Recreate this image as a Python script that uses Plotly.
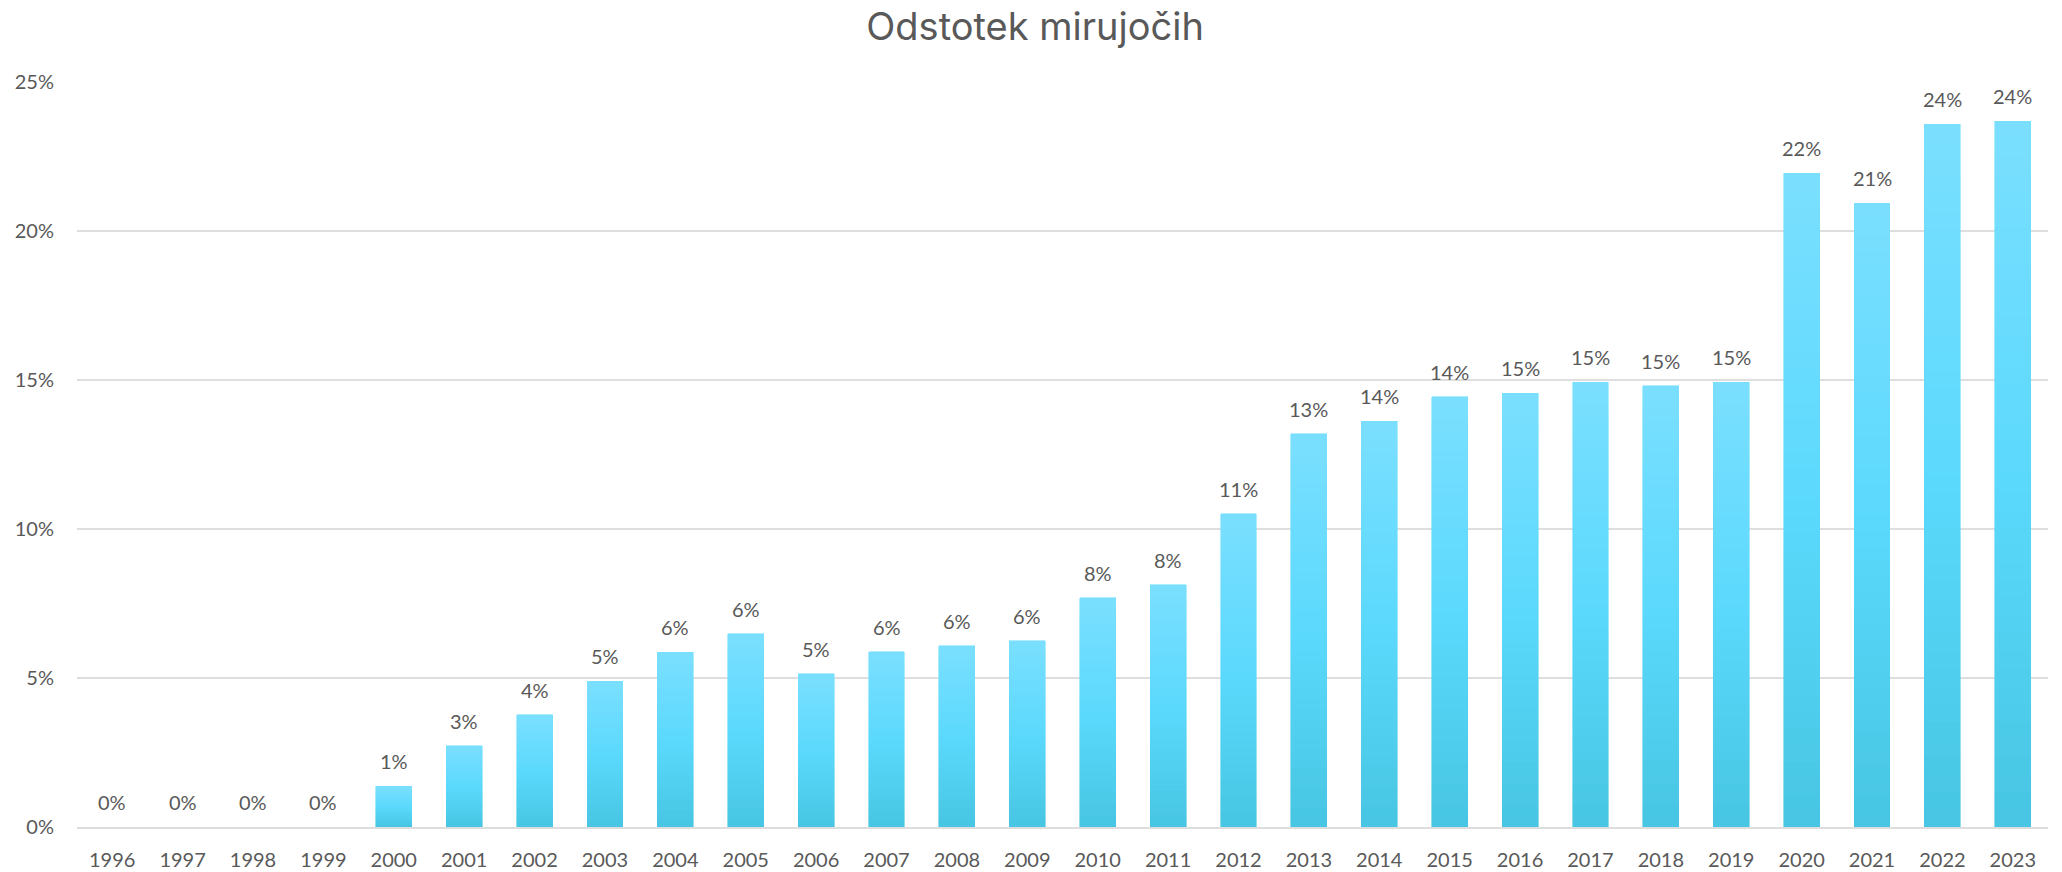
import plotly.graph_objects as go

years = [str(y) for y in range(1996, 2024)]
values = [0, 0, 0, 0, 1.36, 2.73, 3.77, 4.89, 5.86, 6.48, 5.14, 5.88, 6.08, 6.25,
          7.69, 8.13, 10.51, 13.19, 13.62, 14.43, 14.56, 14.93, 14.80, 14.93,
          21.93, 20.93, 23.58, 23.68]
labels = [f"{v:.0f}%" for v in values]
title_text = "Odstotek mirujočih"
y_ticks = [0, 5, 10, 15, 20, 25]
y_ticklabels = [f"{t}%" for t in y_ticks]

# gradient stops (fraction from bottom -> color)
stops = [(0.0, (0x47, 0xC6, 0xE2)), (0.5, (0x5B, 0xD9, 0xFD)), (1.0, (0x7B, 0xDF, 0xFE))]


def color_at(f):
    for (f0, c0), (f1, c1) in zip(stops[:-1], stops[1:]):
        if f0 <= f <= f1:
            t = (f - f0) / (f1 - f0)
            c = [round(a + (b - a) * t) for a, b in zip(c0, c1)]
            return f"rgb({c[0]},{c[1]},{c[2]})"
    return "rgb(123,223,254)"


N = 40
fig = go.Figure()
for i in range(N):
    f = (i + 0.5) / N
    col = color_at(f)
    fig.add_trace(go.Bar(
        x=years, y=[v / N for v in values],
        marker=dict(color=col, line=dict(color=col, width=0.6)),
        hoverinfo="skip", showlegend=False,
    ))

# annotations: on a category axis, x is the category index
for idx, (v, lab) in enumerate(zip(values, labels)):
    fig.add_annotation(x=idx, y=v, text=lab, showarrow=False, yanchor="middle",
                       yshift=25, font=dict(family="Lato", size=20, color="#595959"))

fig.update_layout(
    width=2062, height=872,
    barmode="stack", bargap=0.49,
    paper_bgcolor="white", plot_bgcolor="white",
    margin=dict(l=77, r=14, t=81.5, b=44.5, autoexpand=False),
    title=dict(text=title_text, x=0.502, xanchor="center", y=1 - 27 / 872, yanchor="middle",
               automargin=False,
               font=dict(family="Inter", size=38, color="#595959")),
    font=dict(family="Lato", size=20, color="#595959"),
)
fig.update_xaxes(type="category", range=[-0.5, len(years) - 0.5], automargin=False,
                 showline=True, linecolor="#DDDDDD", linewidth=1.5,
                 showgrid=False, ticks="", ticklabelstandoff=14, tickangle=0,
                 tickfont=dict(family="Lato", size=20, color="#595959"))
fig.update_yaxes(range=[0, 25], tickvals=y_ticks, ticktext=y_ticklabels, automargin=False,
                 showgrid=True, gridcolor="#DEDEDE", gridwidth=1.5, zeroline=False,
                 ticks="", ticklabelstandoff=22,
                 tickfont=dict(family="Lato", size=20, color="#595959"))

fig.write_html("out.html", config={"displayModeBar": False},
               post_script="document.body.style.margin='0';")
